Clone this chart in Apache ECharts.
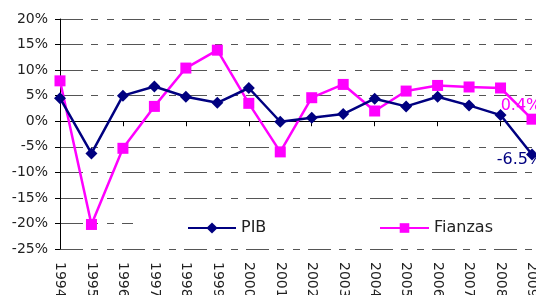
<!DOCTYPE html>
<html><head><meta charset="utf-8">
<script src="https://cdn.jsdelivr.net/npm/echarts@6/dist/echarts.min.js"></script>
<style>html,body{margin:0;padding:0;background:#fff}#c{width:536px;height:295px}</style>
</head><body><div id="c"></div>
<script>
const years = ['1994','1995','1996','1997','1998','1999','2000','2001','2002','2003','2004','2005','2006','2007','2008','2009'];
const pib = [4.5,-6.3,5.0,6.8,4.8,3.6,6.5,-0.1,0.7,1.4,4.4,2.9,4.8,3.1,1.2,-6.5];
const fianzas = [7.9,-20.2,-5.3,2.9,10.4,13.9,3.5,-6.0,4.6,7.2,2.0,5.9,7.0,6.7,6.5,0.4];
const yTicks = {min:-25, max:20, interval:5};
const FONT = 'DejaVu Sans';
const NAVY = '#000080', MAG = '#FF00FF';

function withEndLabel(arr, color, offset) {
  return arr.map((v, i) => i === arr.length - 1 ? {
    value: v,
    label: {show: true, position: 'inside', offset: offset, color: color,
      fontFamily: FONT, fontSize: 16, formatter: p => p.value.toFixed(1) + '%'}
  } : v);
}

const chart = echarts.init(document.getElementById('c'), null, {renderer: 'canvas'});
chart.setOption({
  animation: false,
  grid: {left: 60, right: 4, top: 19, bottom: 46, containLabel: false, outerBoundsMode: 'none'},
  xAxis: [{
    type: 'category', data: years, boundaryGap: false,
    axisLine: {onZero: true, lineStyle: {color: '#000', width: 1}},
    axisTick: {show: true, length: 5, alignWithLabel: true, lineStyle: {color: '#000'}},
    axisLabel: {show: false}, splitLine: {show: false}
  }, {
    type: 'category', data: years, boundaryGap: false, position: 'bottom',
    axisLine: {show: false, onZero: false}, axisTick: {show: false},
    axisLabel: {show: true, rotate: -90, margin: 13, color: '#222', fontFamily: FONT, fontSize: 14, interval: 0}
  }],
  yAxis: {
    type: 'value', min: yTicks.min, max: yTicks.max, interval: yTicks.interval,
    axisLine: {show: true, lineStyle: {color: '#000', width: 1}},
    axisTick: {show: true, length: 5, lineStyle: {color: '#000'}},
    axisLabel: {formatter: '{value}%', color: '#222', fontFamily: FONT, fontSize: 14, margin: 12},
    splitLine: {show: true, lineStyle: {color: '#555', width: 1, type: [23, 8, 7, 9, 7, 8]}}
  },
  legend: [{
    data: ['PIB'], left: 133, top: 216, orient: 'horizontal',
    backgroundColor: '#fff', padding: [4, 70, 4, 54],
    itemWidth: 48, itemHeight: 14, itemGap: 4,
    textStyle: {fontFamily: FONT, fontSize: 16, color: '#222'}
  }, {
    data: ['Fianzas'], left: 330, top: 216, orient: 'horizontal',
    backgroundColor: '#fff', padding: [4, 60, 4, 49],
    itemWidth: 49, itemHeight: 12, itemGap: 4,
    textStyle: {fontFamily: FONT, fontSize: 16, color: '#222'}
  }],
  series: [{
    name: 'PIB', type: 'line', data: withEndLabel(pib, NAVY, [-12, 5]),
    symbol: 'diamond', symbolSize: 12,
    lineStyle: {color: NAVY, width: 2.5}, itemStyle: {color: NAVY},
    z: 3
  }, {
    name: 'Fianzas', type: 'line', data: withEndLabel(fianzas, MAG, [-11, -13]),
    symbol: 'rect', symbolSize: 11,
    lineStyle: {color: MAG, width: 2.5}, itemStyle: {color: MAG},
    z: 2
  }]
});
</script></body></html>
